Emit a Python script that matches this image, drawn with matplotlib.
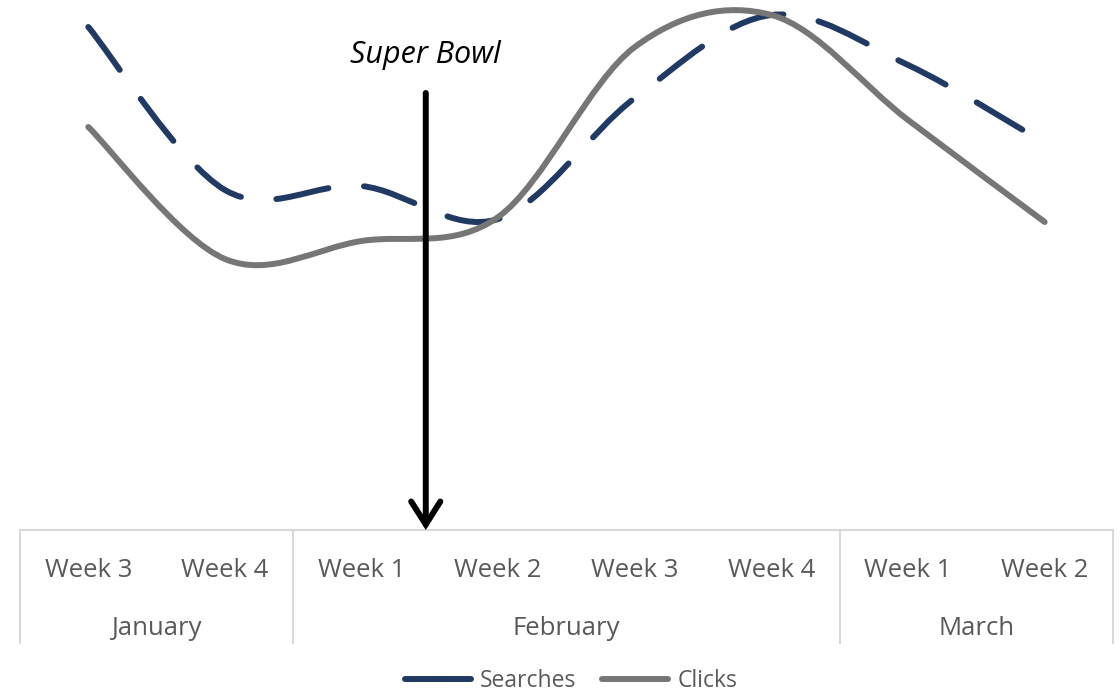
import matplotlib
matplotlib.use("Agg")
import matplotlib.pyplot as plt
import numpy as np
from matplotlib.path import Path
from matplotlib.patches import PathPatch
from matplotlib.lines import Line2D

# Weekly series
weeks = ["Week 3", "Week 4", "Week 1", "Week 2", "Week 3", "Week 4", "Week 1", "Week 2"]
months = ["January", "February", "March"]
month_spans = [(0, 2), (2, 6), (6, 8)]
searches = [503, 340, 344, 311, 432, 515, 465, 387]
clicks = [403, 271, 289, 313, 483, 515, 410, 308]
event_label = "Super Bowl"
event_pos = 2.97

NAVY = "#213a63"
GREY = "#767676"
AXIS_GREY = "#d9d9d9"
TEXT_GREY = "#595959"

plt.rcParams["font.family"] = ["Open Sans", "DejaVu Sans"]

W, H = 1120, 695
fig = plt.figure(figsize=(W / 100, H / 100), dpi=100)
ax = fig.add_axes([20 / W, (H - 530) / H, (1113 - 20) / W, (530 - 5) / H])
ax.set_xlim(0, len(weeks))
ax.set_ylim(0, 525)
ax.set_axis_off()


def smooth_path(xs, ys):
    """Catmull-Rom style cubic Bezier path through every point."""
    pts = np.column_stack([xs, ys]).astype(float)
    n = len(pts)
    verts = [pts[0]]
    codes = [Path.MOVETO]
    for i in range(n - 1):
        p0 = pts[i - 1] if i > 0 else pts[i]
        p1 = pts[i]
        p2 = pts[i + 1]
        p3 = pts[i + 2] if i + 2 < n else pts[i + 1]
        c1 = p1 + (p2 - p0) / 6.0
        c2 = p2 - (p3 - p1) / 6.0
        verts += [c1, c2, p2]
        codes += [Path.CURVE4] * 3
    return Path(verts, codes)


x = np.arange(len(weeks)) + 0.5

ax.add_patch(PathPatch(smooth_path(x, searches), fill=False, edgecolor=NAVY,
                       linewidth=4.3, linestyle=(0, (8.9, 6.0)),
                       capstyle="round", joinstyle="round", zorder=2))
ax.add_patch(PathPatch(smooth_path(x, clicks), fill=False, edgecolor=GREY,
                       linewidth=4.3, capstyle="round", joinstyle="round",
                       zorder=3))

# Event marker
ax.text(event_pos, 475, event_label, ha="center", va="center",
        fontsize=22, style="italic", color="black", zorder=5)
ax.annotate("", xy=(event_pos, 0), xytext=(event_pos, 437),
            arrowprops=dict(arrowstyle="->,head_length=0.55,head_width=0.35",
                            lw=4.3, color="black", shrinkA=0, shrinkB=0,
                            mutation_scale=30, joinstyle="miter"),
            zorder=6)

# Two-level category axis
tr = ax.get_xaxis_transform()
ax.plot([0, len(weeks)], [0, 0], color=AXIS_GREY, lw=1.5, transform=tr,
        clip_on=False, zorder=1)
for xb in [0, 2, 6, 8]:
    ax.plot([xb, xb], [0, -0.215], color=AXIS_GREY, lw=1.5, transform=tr,
            clip_on=False, zorder=1)
for xi, lab in zip(x, weeks):
    ax.text(xi, -0.078, lab, transform=tr, ha="center", va="center",
            fontsize=18.5, color=TEXT_GREY)
for (a, b), m in zip(month_spans, months):
    ax.text((a + b) / 2, -0.187, m, transform=tr, ha="center", va="center",
            fontsize=18.5, color=TEXT_GREY)

handles = [Line2D([], [], color=NAVY, lw=4.3, solid_capstyle="round"),
           Line2D([], [], color=GREY, lw=4.3, solid_capstyle="round")]
fig.legend(handles, ["Searches", "Clicks"], loc="center",
           bbox_to_anchor=(571 / W, 1 - 681 / H), ncol=2, frameon=False,
           fontsize=16.5, labelcolor=TEXT_GREY, handlelength=2.9,
           handletextpad=0.4, columnspacing=1.1, borderpad=0)

fig.savefig("out.png", dpi=100)
